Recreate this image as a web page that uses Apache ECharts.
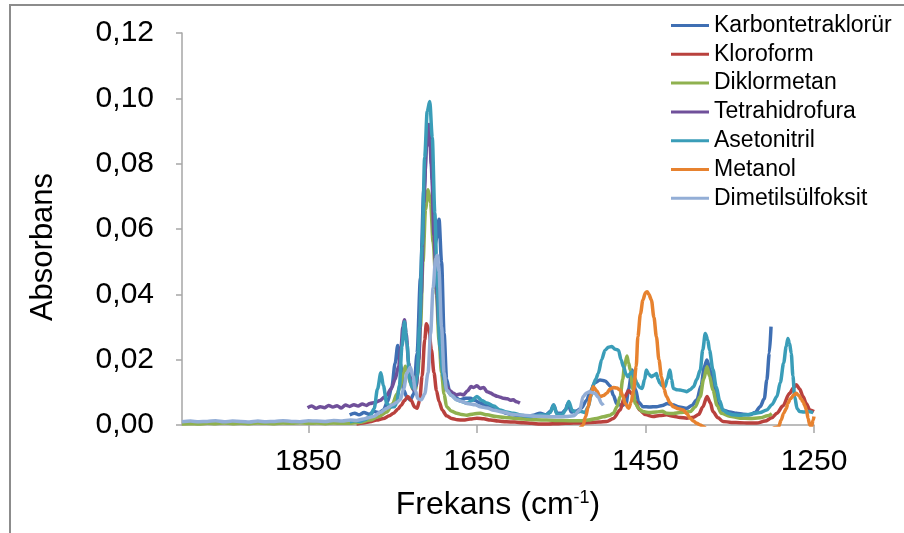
<!DOCTYPE html>
<html>
<head>
<meta charset="utf-8">
<script src="https://cdn.jsdelivr.net/npm/echarts@6/dist/echarts.min.js"></script>
<style>
html, body { margin: 0; padding: 0; background: #fff; }
#chart { width: 904px; height: 533px; }
</style>
</head>
<body>
<div id="chart"></div>
<script>
// x ticks (cm-1) and y ticks
const xTicks = [1250, 1450, 1650, 1850]
const yTicks = [0, 0.02, 0.04, 0.06, 0.08, 0.1, 0.12]

const names = ['Karbontetraklorür', 'Kloroform', 'Diklormetan', 'Tetrahidrofura', 'Asetonitril', 'Metanol', 'Dimetilsülfoksit']
const colors = ['#3f6fb3', '#b9413d', '#8fb14f', '#70509a', '#3a9db8', '#e7822f', '#93aed6']

// [frekans, absorbans]
const karbon = [[1801,0.0031],[1795,0.0036],[1790,0.0031],[1784,0.0038],[1778,0.0033],[1772,0.0041],[1766,0.0038],[1761,0.0046],[1756,0.0072],[1751,0.0117],[1747,0.019],[1744,0.0243],[1741,0.019],[1737,0.0107],[1733,0.0085],[1729,0.0077],[1725,0.0095],[1721,0.022],[1717,0.045],[1713,0.072],[1709,0.088],[1706,0.09],[1703,0.075],[1700,0.055],[1697,0.058],[1695,0.063],[1692,0.05],[1689,0.028],[1686,0.014],[1682,0.0097],[1676,0.0085],[1670,0.0077],[1664,0.0082],[1658,0.0082],[1652,0.0075],[1646,0.0067],[1640,0.006],[1634,0.0055],[1628,0.005],[1622,0.0043],[1615,0.0036],[1608,0.0031],[1600,0.0028],[1591,0.0026],[1583,0.003],[1575,0.0036],[1568,0.0031],[1563,0.0041],[1559,0.0061],[1555,0.0036],[1549,0.0036],[1545,0.0046],[1542,0.0066],[1538,0.004],[1532,0.0043],[1526,0.0052],[1520,0.0075],[1515,0.0105],[1510,0.013],[1504,0.0138],[1498,0.0135],[1492,0.012],[1488,0.009],[1484,0.0065],[1478,0.006],[1473,0.0066],[1470,0.011],[1466,0.0168],[1462,0.011],[1458,0.007],[1453,0.0056],[1445,0.0055],[1437,0.0056],[1430,0.006],[1424,0.0066],[1418,0.0062],[1410,0.0055],[1401,0.0051],[1395,0.006],[1389,0.0077],[1384,0.012],[1380,0.018],[1377,0.0199],[1373,0.0165],[1369,0.0115],[1364,0.0065],[1359,0.0046],[1350,0.004],[1342,0.0036],[1334,0.0033],[1326,0.0031],[1320,0.0038],[1314,0.0056],[1309,0.008],[1306,0.0138],[1303,0.022],[1301,0.0301]]

const kloroform = [[1793,0.0003],[1785,0.0006],[1777,0.001],[1769,0.0015],[1761,0.002],[1754,0.0028],[1749,0.0036],[1744,0.0048],[1740,0.006],[1736,0.0075],[1732,0.0087],[1728,0.0075],[1724,0.0055],[1721,0.0051],[1718,0.0075],[1715,0.015],[1712,0.026],[1710,0.031],[1707,0.029],[1704,0.023],[1701,0.016],[1698,0.0105],[1695,0.0072],[1691,0.0045],[1686,0.0028],[1680,0.002],[1673,0.0016],[1666,0.0015],[1658,0.0018],[1650,0.0021],[1642,0.0019],[1634,0.0015],[1625,0.0012],[1615,0.001],[1605,0.0009],[1595,0.0007],[1585,0.0005],[1575,0.0003],[1565,0.0003],[1555,0.0004],[1545,0.0005],[1535,0.0006],[1525,0.0006],[1515,0.0008],[1505,0.0009],[1496,0.0011],[1488,0.002],[1480,0.0046],[1475,0.0085],[1470,0.0105],[1466,0.0095],[1462,0.0072],[1457,0.0046],[1450,0.0032],[1441,0.0026],[1433,0.0029],[1425,0.0031],[1417,0.0027],[1409,0.0023],[1401,0.0021],[1393,0.0024],[1387,0.0032],[1382,0.0055],[1377,0.0087],[1373,0.0068],[1370,0.0041],[1364,0.0022],[1358,0.0011],[1348,0.0008],[1338,0.0007],[1328,0.0006],[1318,0.0006],[1308,0.0012],[1300,0.0022],[1294,0.0036],[1287,0.0058],[1279,0.0097],[1274,0.0115],[1271,0.0123],[1267,0.011],[1263,0.0087],[1259,0.0065],[1255,0.0046],[1250,0.0041]]

const diklormetan = [[2000,0.0003],[1990,0.0004],[1980,0.0003],[1970,0.0005],[1960,0.0004],[1950,0.0006],[1940,0.0004],[1930,0.0005],[1920,0.0004],[1910,0.0006],[1900,0.0005],[1890,0.0004],[1880,0.0006],[1870,0.0005],[1860,0.0007],[1850,0.0005],[1840,0.0006],[1830,0.0004],[1820,0.0006],[1810,0.0005],[1801,0.0005],[1790,0.0008],[1777,0.0015],[1767,0.0025],[1757,0.004],[1750,0.0065],[1745,0.0095],[1741,0.0117],[1737,0.016],[1735,0.018],[1732,0.016],[1729,0.0128],[1726,0.011],[1723,0.0107],[1720,0.016],[1717,0.03],[1714,0.05],[1711,0.066],[1708,0.072],[1705,0.068],[1702,0.056],[1698,0.04],[1695,0.026],[1692,0.016],[1689,0.0095],[1686,0.0056],[1680,0.0042],[1674,0.0036],[1668,0.0032],[1662,0.003],[1654,0.0034],[1646,0.0036],[1638,0.0031],[1627,0.0026],[1617,0.0023],[1607,0.0021],[1595,0.0018],[1580,0.0016],[1567,0.0015],[1555,0.0014],[1540,0.0013],[1528,0.0013],[1518,0.0015],[1508,0.002],[1500,0.0025],[1492,0.003],[1488,0.0036],[1484,0.0055],[1480,0.0087],[1477,0.014],[1475,0.0178],[1472,0.0211],[1470,0.019],[1468,0.0168],[1465,0.011],[1462,0.0066],[1458,0.005],[1453,0.0041],[1445,0.0038],[1437,0.004],[1430,0.0042],[1425,0.0036],[1417,0.0035],[1409,0.0038],[1401,0.004],[1397,0.0041],[1391,0.0055],[1385,0.0087],[1381,0.014],[1377,0.0178],[1374,0.015],[1370,0.0107],[1365,0.006],[1360,0.0036],[1350,0.0027],[1338,0.0021],[1326,0.002],[1314,0.0022],[1305,0.0028],[1300,0.0035]]

const tetrahidrofura = [[1851,0.0053],[1846,0.0058],[1841,0.0051],[1836,0.0056],[1831,0.0053],[1826,0.006],[1821,0.0055],[1816,0.0059],[1811,0.0052],[1806,0.0061],[1801,0.0057],[1796,0.0062],[1791,0.0058],[1786,0.0064],[1781,0.006],[1777,0.0066],[1771,0.0069],[1765,0.0075],[1760,0.0085],[1757,0.0092],[1752,0.011],[1747,0.014],[1743,0.018],[1740,0.024],[1738,0.03],[1736,0.0322],[1734,0.028],[1731,0.019],[1728,0.013],[1725,0.0107],[1722,0.012],[1719,0.02],[1716,0.04],[1713,0.068],[1710,0.085],[1707,0.092],[1704,0.08],[1701,0.058],[1698,0.042],[1695,0.03],[1692,0.02],[1689,0.014],[1686,0.0118],[1682,0.0105],[1678,0.0097],[1674,0.0092],[1670,0.0095],[1666,0.0092],[1661,0.0105],[1657,0.0118],[1654,0.0115],[1650,0.012],[1646,0.0112],[1642,0.0115],[1638,0.0102],[1634,0.0098],[1630,0.0092],[1626,0.0088],[1622,0.0085],[1619,0.0082],[1614,0.008],[1610,0.0076],[1607,0.0077],[1603,0.0071],[1599,0.0067]]

const asetonitril = [[1801,0.001],[1795,0.0013],[1789,0.0011],[1783,0.0016],[1777,0.0026],[1772,0.005],[1768,0.011],[1764,0.016],[1761,0.012],[1757,0.0066],[1752,0.0055],[1748,0.0056],[1745,0.0068],[1742,0.012],[1739,0.024],[1736,0.0316],[1733,0.025],[1730,0.014],[1727,0.0117],[1724,0.011],[1721,0.015],[1718,0.03],[1715,0.055],[1712,0.082],[1709,0.096],[1706,0.099],[1703,0.088],[1700,0.065],[1697,0.042],[1694,0.024],[1690,0.015],[1686,0.0107],[1680,0.009],[1674,0.0077],[1668,0.0072],[1662,0.0067],[1656,0.0075],[1650,0.0087],[1644,0.0075],[1638,0.0067],[1630,0.0058],[1623,0.0046],[1615,0.004],[1607,0.0036],[1597,0.003],[1587,0.0026],[1580,0.0028],[1575,0.0031],[1568,0.003],[1563,0.0038],[1559,0.0061],[1555,0.0033],[1549,0.0031],[1545,0.0045],[1541,0.0072],[1537,0.0045],[1532,0.0038],[1527,0.0042],[1522,0.0038],[1518,0.0055],[1515,0.0085],[1512,0.0123],[1509,0.014],[1506,0.0158],[1502,0.02],[1498,0.0229],[1494,0.0238],[1490,0.024],[1486,0.0232],[1482,0.0229],[1479,0.02],[1476,0.0178],[1473,0.0155],[1471,0.0148],[1468,0.0158],[1466,0.0163],[1463,0.0145],[1460,0.0128],[1457,0.0115],[1454,0.0112],[1451,0.014],[1449,0.0168],[1446,0.0155],[1443,0.0148],[1440,0.0152],[1437,0.0158],[1435,0.014],[1433,0.0128],[1430,0.012],[1427,0.0117],[1424,0.014],[1421,0.0168],[1419,0.014],[1417,0.0112],[1413,0.0108],[1409,0.0107],[1405,0.0105],[1401,0.0102],[1397,0.0108],[1393,0.0117],[1389,0.014],[1385,0.0168],[1382,0.023],[1379,0.028],[1376,0.026],[1374,0.0229],[1370,0.017],[1366,0.0117],[1362,0.0075],[1358,0.0046],[1352,0.0036],[1346,0.0031],[1338,0.003],[1330,0.0031],[1322,0.0035],[1314,0.0038],[1306,0.0046],[1300,0.0062],[1294,0.0087],[1290,0.013],[1286,0.019],[1283,0.024],[1281,0.0265],[1279,0.025],[1277,0.0219],[1275,0.015],[1273,0.0087],[1270,0.005],[1267,0.0041],[1262,0.004],[1257,0.0041],[1251,0.0038]]

const metanol = [[1530,-0.002],[1526,-0.0005],[1524,0],[1521,0.0025],[1518,0.0056],[1515,0.009],[1512,0.0117],[1508,0.0105],[1504,0.0087],[1500,0.009],[1496,0.0097],[1492,0.011],[1488,0.0115],[1484,0.0113],[1480,0.0107],[1477,0.009],[1474,0.0066],[1470,0.0051],[1467,0.007],[1464,0.0107],[1461,0.018],[1459,0.027],[1456,0.034],[1453,0.0383],[1450,0.0405],[1448,0.0408],[1446,0.04],[1443,0.0383],[1440,0.033],[1437,0.027],[1434,0.02],[1431,0.0148],[1428,0.011],[1425,0.0087],[1421,0.0068],[1417,0.0056],[1411,0.005],[1405,0.0046],[1401,0.0035],[1397,0.0021],[1393,0.0012],[1389,0.0005],[1385,0],[1381,-0.0005],[1375,-0.002],[1360,-0.004],[1340,-0.005],[1320,-0.004],[1305,-0.002],[1296,-0.0008],[1292,-0.0005],[1289,0.0015],[1286,0.0036],[1283,0.005],[1281,0.0066],[1278,0.008],[1274,0.0092],[1271,0.0097],[1268,0.009],[1265,0.0078],[1263,0.0071],[1261,0.006],[1259,0.0046],[1257,0.002],[1255,0],[1253,-0.0005],[1251,0.0015],[1250,0.0026]]

const dimetilsulfoksit = [[2000,0.001],[1990,0.0012],[1980,0.001],[1970,0.0011],[1960,0.0013],[1950,0.001],[1940,0.0012],[1930,0.0011],[1920,0.0009],[1910,0.0012],[1900,0.001],[1890,0.0011],[1880,0.0013],[1870,0.0011],[1860,0.001],[1850,0.0013],[1840,0.0012],[1830,0.0011],[1820,0.0014],[1810,0.0012],[1800,0.0015],[1793,0.0014],[1785,0.0018],[1779,0.0022],[1773,0.0026],[1765,0.0038],[1757,0.0051],[1750,0.0062],[1745,0.007],[1741,0.0077],[1737,0.011],[1733,0.016],[1729,0.0177],[1726,0.015],[1723,0.0105],[1720,0.008],[1716,0.0077],[1712,0.0095],[1708,0.016],[1705,0.028],[1702,0.042],[1699,0.051],[1697,0.052],[1695,0.047],[1692,0.03],[1689,0.016],[1686,0.0107],[1680,0.009],[1674,0.0077],[1668,0.0072],[1660,0.0065],[1652,0.0062],[1646,0.0056],[1638,0.0052],[1630,0.0045],[1620,0.004],[1607,0.0032],[1595,0.003],[1580,0.0027],[1567,0.0026],[1555,0.0025],[1545,0.0026],[1535,0.0028],[1528,0.0045],[1524,0.0087],[1520,0.0098],[1516,0.0102],[1513,0.0099],[1510,0.0097],[1506,0.0085],[1502,0.0066],[1500,0.006]]

const allData = [karbon, kloroform, diklormetan, tetrahidrofura, asetonitril, metanol, dimetilsulfoksit]

const chart = echarts.init(document.getElementById('chart'))

let option = {
    animation: false,
    textStyle: { fontFamily: 'Liberation Sans, Arial, sans-serif' },
    grid: { left: 182, right: 90, top: 33, bottom: 108 },
    legend: {
        orient: 'vertical',
        left: 666,
        top: 9,
        icon: 'rect',
        itemWidth: 38,
        itemHeight: 3,
        itemGap: 5.8,
        textStyle: { fontSize: 23, color: '#000' },
        data: names
    },
    xAxis: {
        type: 'value',
        min: 1250,
        max: 2000,
        inverse: true,
        name: '{m|Frekans (cm}{s|-1}{m|)}',
        nameLocation: 'middle',
        nameGap: 64,
        nameTextStyle: {
            rich: {
                m: { fontSize: 32, color: '#000', verticalAlign: 'bottom' },
                s: { fontSize: 18, color: '#000', verticalAlign: 'top' }
            }
        },
        axisLine: { show: true, lineStyle: { color: '#a6a6a6', width: 1.5 } },
        axisTick: { show: true, length: 8, customValues: xTicks, lineStyle: { color: '#a6a6a6', width: 1.5 } },
        axisLabel: { fontSize: 30, color: '#000', margin: 22, customValues: xTicks, formatter: v => String(v) },
        splitLine: { show: false }
    },
    yAxis: {
        type: 'value',
        min: 0,
        max: 0.12,
        interval: 0.02,
        axisLine: { show: true, lineStyle: { color: '#a6a6a6', width: 1.5 } },
        axisTick: { show: true, length: 6, lineStyle: { color: '#a6a6a6', width: 1.5 } },
        axisLabel: {
            fontSize: 30,
            color: '#000',
            margin: 28,
            formatter: v => v.toFixed(2).replace('.', ',')
        },
        splitLine: { show: false }
    },
    graphic: [
        {
            type: 'rect',
            shape: { x: 10, y: 5, width: 1000, height: 1000 },
            style: { fill: 'none', stroke: '#8c8c8c', lineWidth: 2 },
            silent: true
        },
        {
            type: 'text',
            x: 43,
            y: 247,
            rotation: Math.PI / 2,
            style: {
                text: 'Absorbans',
                fontSize: 31,
                fontFamily: 'Liberation Sans, Arial, sans-serif',
                fill: '#000',
                align: 'center',
                verticalAlign: 'middle'
            }
        }
    ],
    series: names.map((n, i) => ({
        name: n,
        type: 'line',
        data: allData[i],
        symbol: 'none',
        smooth: 0.3,
        smoothMonotone: 'x',
        clip: true,
        lineStyle: { color: colors[i], width: 3.5 },
        itemStyle: { color: colors[i] }
    }))
}

chart.setOption(option)
</script>
</body>
</html>
